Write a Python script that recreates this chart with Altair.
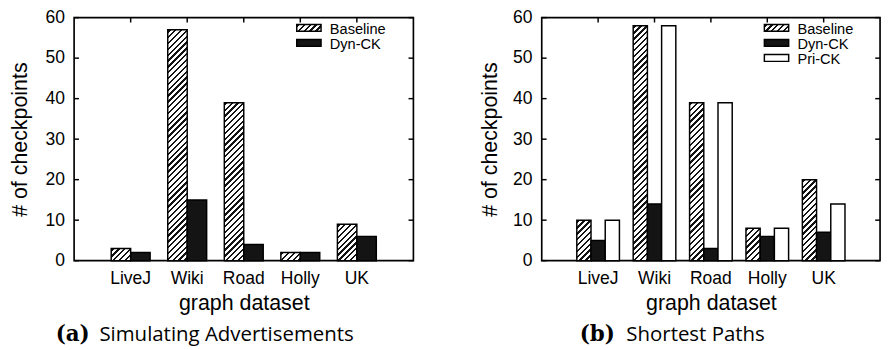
import math
import altair as alt
import pandas as pd

# ---------------- data ----------------
datasets = ["LiveJ", "Wiki", "Road", "Holly", "UK"]

series_a = ["Baseline", "Dyn-CK"]
a_baseline = [3, 57, 39, 2, 9]
a_dyn = [2, 15, 4, 2, 6]

series_b = ["Baseline", "Dyn-CK", "Pri-CK"]
b_baseline = [10, 58, 39, 8, 20]
b_dyn = [5, 14, 3, 6, 7]
b_pri = [10, 58, 39, 8, 14]

y_ticks = [0, 10, 20, 30, 40, 50, 60]
y_max = 60

captions = [("(a)", "Simulating Advertisements"), ("(b)", "Shortest Paths")]

# ---------------- style ----------------
H = 250
SANS = "Liberation Sans"
DARK = "#141414"


def hatch(w, h, period=6.0, frac=0.4):
    """Diagonal '/' hatch as a linear gradient in bounding-box units."""
    w = max(w, 1.0)
    h = max(h, 1.0)
    L = w + h
    k = L / (w * w + h * h)
    n = L / period
    stops = [{"offset": 0, "color": "white"}]
    for i in range(int(math.ceil(n)) + 1):
        a = min(1.0, (i + 0.2) / n)
        b = min(1.0, (i + 0.2 + frac) / n)
        stops += [
            {"offset": a, "color": "white"},
            {"offset": a, "color": DARK},
            {"offset": b, "color": DARK},
            {"offset": b, "color": "white"},
        ]
    return {
        "gradient": "linear",
        "x1": 0, "y1": 0, "x2": w * k, "y2": h * k,
        "stops": stops,
    }


def panel(series, values, width, pad_inner, pad_outer, tag, text, tag_x,
          text_x, ytitle_pad):
    rows = []
    for s, vals in zip(series, values):
        for d, v in zip(datasets, vals):
            rows.append({"dataset": d, "series": s, "value": v})
    df = pd.DataFrame(rows)

    step = width / (5 - pad_inner + 2 * pad_outer)
    bar_w = step * (1 - pad_inner) / len(series)

    conds = []
    for d, v in zip(datasets, values[0]):
        conds.append({
            "test": f"datum.series === 'Baseline' && datum.dataset === '{d}'",
            "value": hatch(bar_w, v * H / y_max),
        })
    conds.append({"test": "datum.series === 'Pri-CK'", "value": "white"})

    x_enc = alt.X(
        "dataset:N", sort=datasets, title="graph dataset",
        scale=alt.Scale(paddingInner=pad_inner, paddingOuter=pad_outer),
        axis=alt.Axis(labelAngle=0, ticks=False, tickSize=0, domain=False,
                      labelFontSize=18, labelFont=SANS, labelColor="black",
                      labelPadding=10, titleFontSize=22, titleFont=SANS,
                      titleFontWeight="normal", titleColor="black",
                      titlePadding=5),
    )
    y_enc = alt.Y(
        "value:Q", title="# of checkpoints",
        scale=alt.Scale(domain=[0, y_max], nice=False, zero=True),
        axis=alt.Axis(values=y_ticks, ticks=False, tickSize=0, domain=False,
                      grid=False, labelFontSize=18, labelFont=SANS,
                      labelColor="black", labelPadding=10, titleFontSize=22,
                      titleFont=SANS, titleFontWeight="normal",
                      titleColor="black", titlePadding=ytitle_pad),
    )

    bars = alt.Chart(df).mark_bar(stroke="black", strokeWidth=1.5).encode(
        x=x_enc,
        xOffset=alt.XOffset("series:N", sort=series,
                            scale=alt.Scale(domain=series, paddingInner=0,
                                            paddingOuter=0)),
        y=y_enc,
        fill=alt.FillValue(DARK, condition=conds),
    )

    ytdf = pd.DataFrame({"value": y_ticks})
    left_ticks = alt.Chart(ytdf).mark_rule(color="black", strokeWidth=1.5).encode(
        y=alt.Y("value:Q", title="# of checkpoints"), x=alt.value(0), x2=alt.value(5))
    right_ticks = alt.Chart(ytdf).mark_rule(color="black", strokeWidth=1.5).encode(
        y=alt.Y("value:Q", title="# of checkpoints"), x=alt.value(width - 5), x2=alt.value(width))
    xtdf = pd.DataFrame({"dataset": datasets})
    top_ticks = alt.Chart(xtdf).mark_rule(color="black", strokeWidth=1.5).encode(
        x=alt.X("dataset:N", sort=datasets, title="graph dataset"),
        y=alt.value(0), y2=alt.value(5))

    # legend (inside, top-right)
    legend_layers = []
    for i, s in enumerate(series):
        yc = 10.5 + 15.5 * i
        if s == "Baseline":
            fill = hatch(25, 7)
        elif s == "Dyn-CK":
            fill = DARK
        else:
            fill = "white"
        one = pd.DataFrame({"label": [s]})
        legend_layers.append(
            alt.Chart(one).mark_rect(fill=fill, stroke="black", strokeWidth=1.5).encode(
                x=alt.value(229), x2=alt.value(254),
                y=alt.value(yc - 3.5), y2=alt.value(yc + 3.5)))
        legend_layers.append(
            alt.Chart(one).mark_text(align="left", baseline="middle", font=SANS,
                                     fontSize=15, color="black").encode(
                text="label:N", x=alt.value(263), y=alt.value(yc + 1)))

    cap_df = pd.DataFrame({"tag": [tag], "text": [text]})
    cap_tag = alt.Chart(cap_df).mark_text(
        align="left", baseline="middle", font="DejaVu Serif", fontWeight="bold",
        fontSize=22, color="black").encode(
        text="tag:N", x=alt.value(tag_x), y=alt.value(H + 76))
    cap_text = alt.Chart(cap_df).mark_text(
        align="left", baseline="middle", font="Open Sans", fontSize=21,
        color="black").encode(
        text="text:N", x=alt.value(text_x), y=alt.value(H + 77))

    return alt.layer(bars, left_ticks, right_ticks, top_ticks,
                     *legend_layers, cap_tag, cap_text).properties(
        width=width, height=H)


pa = panel(series_a, [a_baseline, a_dyn], 349, 0.312, 0.656,
           captions[0][0], captions[0][1], -19, 26, 14)
pb = panel(series_b, [b_baseline, b_dyn, b_pri], 348, 0.244, 0.622,
           captions[1][0], captions[1][1], 39, 87, 11)

chart = alt.hconcat(pa, pb, spacing=132, bounds="flush").resolve_scale(
    x="independent", xOffset="independent", y="independent"
).properties(
    padding={"left": 0, "top": -5, "right": 0, "bottom": 0},
    background="white",
).configure_view(stroke="black", strokeWidth=1.7)

chart.save("out.html", embed_options={"renderer": "svg", "actions": False})
